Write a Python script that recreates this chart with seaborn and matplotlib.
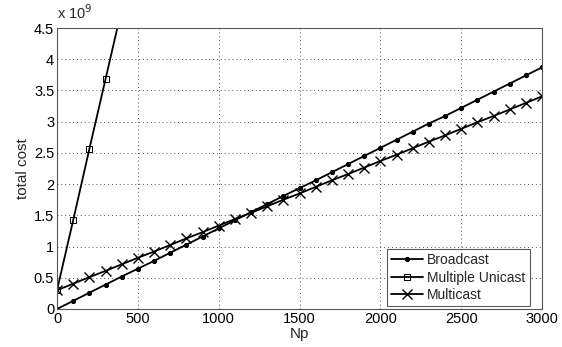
import matplotlib
matplotlib.use("Agg")
import matplotlib.pyplot as plt
import seaborn as sns
import numpy as np

np_values = [0, 100, 200, 300, 400, 500, 600, 700, 800, 900, 1000, 1100, 1200, 1300, 1400, 1500,
             1600, 1700, 1800, 1900, 2000, 2100, 2200, 2300, 2400, 2500, 2600, 2700, 2800, 2900, 3000]
broadcast = [0, 0.13, 0.26, 0.39, 0.52, 0.645, 0.77, 0.9, 1.03, 1.16, 1.29, 1.42, 1.55, 1.68, 1.81, 1.935,
             2.06, 2.19, 2.32, 2.45, 2.58, 2.71, 2.84, 2.97, 3.09, 3.22, 3.35, 3.48, 3.61, 3.74, 3.87]
multicast = [0.3, 0.405, 0.51, 0.61, 0.715, 0.82, 0.92, 1.025, 1.13, 1.23, 1.335, 1.44, 1.54, 1.645, 1.75, 1.85,
             1.955, 2.06, 2.16, 2.265, 2.37, 2.47, 2.575, 2.68, 2.78, 2.885, 2.99, 3.09, 3.195, 3.3, 3.405]
unicast_np = [0, 100, 200, 300, 400]
unicast = [0.3, 1.42, 2.56, 3.68, 4.8]

xticks = [0, 500, 1000, 1500, 2000, 2500, 3000]
yticks = [0, 0.5, 1, 1.5, 2, 2.5, 3, 3.5, 4, 4.5]
ytick_labels = ["0", "0.5", "1", "1.5", "2", "2.5", "3", "3.5", "4", "4.5"]

sns.set_style("white")
plt.rcParams['font.family'] = ['Liberation Sans', 'DejaVu Sans']
plt.rcParams['font.size'] = 10

fig = plt.figure(figsize=(5.62, 3.47), dpi=100)
ax = fig.add_axes([57/562, 1 - 309/347, (542-57)/562, (309-28)/347])

sns.lineplot(x=np_values, y=broadcast, ax=ax, color="black", marker="o", markersize=3,
             markeredgecolor="black", linewidth=1.3, label="Broadcast")
sns.lineplot(x=unicast_np, y=unicast, ax=ax, color="black", marker="s", markersize=5,
             markerfacecolor="none", markeredgecolor="black", linewidth=1.3, label="Multiple Unicast")
sns.lineplot(x=np_values, y=multicast, ax=ax, color="black", marker="x", markersize=7,
             markeredgecolor="black", markeredgewidth=1.0, linewidth=1.3, label="Multicast")

ax.set_xlim(0, 3000)
ax.set_ylim(0, 4.5)
ax.set_xticks(xticks)
ax.set_yticks(yticks)
ax.set_yticklabels(ytick_labels)
ax.tick_params(direction="in", length=3, labelsize=10.5, pad=2, colors="black")
ax.grid(True, linestyle=(0, (1, 3)), color="#555555", linewidth=0.7)
for s in ax.spines.values():
    s.set_color("#555555")
    s.set_linewidth(0.8)
ax.set_xlabel("Np", fontsize=11, labelpad=1)
ax.set_ylabel("total cost", fontsize=11, labelpad=3)
ax.text(0.0, 1.02, "x 10$^9$", transform=ax.transAxes, fontsize=10.5, ha="left", va="bottom")

leg = ax.legend(loc="lower right", fontsize=10, frameon=True, fancybox=False,
                edgecolor="#333333", handlelength=2.3, borderpad=0.3, labelspacing=0.25,
                handletextpad=0.3, borderaxespad=0.2, bbox_to_anchor=(0.98, 0.0))
leg.get_frame().set_linewidth(0.8)

fig.savefig("out.png", dpi=100, facecolor="white")
